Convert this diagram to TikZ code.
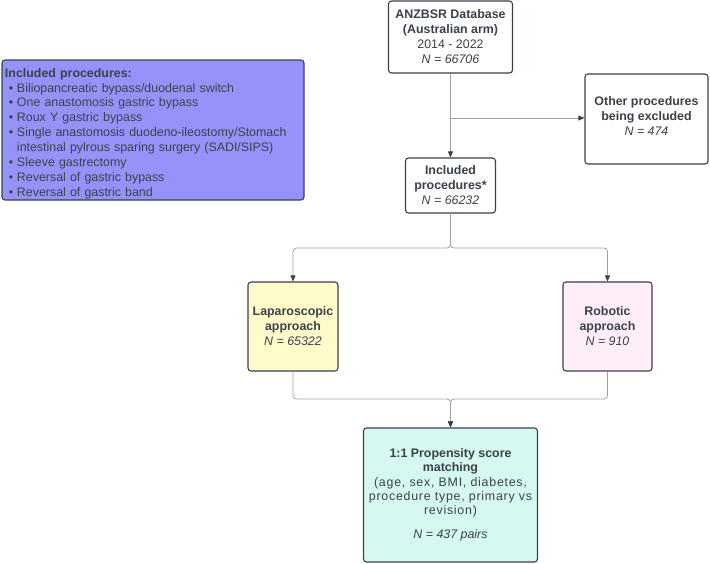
\documentclass[tikz,border=0pt]{standalone}
\usepackage{fontspec}
\setmainfont{Liberation Sans}
\usetikzlibrary{arrows.meta}
\definecolor{txt}{HTML}{3A414A}
\definecolor{bord}{HTML}{3A414A}
\definecolor{lineg}{HTML}{9EA1A6}
\definecolor{purp}{HTML}{9593F9}
\definecolor{yell}{HTML}{FFFBCA}
\definecolor{pink}{HTML}{FFEEFA}
\definecolor{mint}{HTML}{D5F8F1}
\newcommand{\bul}{\makebox[12pt][c]{\textbullet}}
\begin{document}
\begin{tikzpicture}[x=1pt,y=-1pt,
  box/.style={draw=bord, line width=1.1pt, rounded corners=3pt, text=txt, align=center,
    inner sep=0pt, font=\fontsize{12.4}{15}\selectfont},
  conn/.style={draw=lineg, line width=0.8pt, rounded corners=3.5pt},
  arr/.style={conn, -{Triangle[length=6pt,width=5pt,color=txt]}}]
\useasboundingbox (0,0) rectangle (710,563);

\node[box, fill=white, minimum width=124pt, minimum height=72pt] (anz) at (450.5,37)
  {\textbf{ANZBSR Database}\\\textbf{(Australian arm)}\\2014 - 2022\\\textit{N = 66706}};
\node[box, fill=white, minimum width=123pt, minimum height=90pt] (oth) at (646.5,119)
  {\textbf{Other procedures}\\\textbf{being excluded}\\\textit{N = 474}\rule[-5pt]{0pt}{1pt}};
\node[box, fill=white, minimum width=90pt, minimum height=55pt] (inc) at (450.5,185.5)
  {\textbf{Included}\\\textbf{procedures*}\\\textit{N = 66232}};
\node[box, fill=yell, minimum width=90pt, minimum height=89pt] (lap) at (293,326.5)
  {\textbf{Laparoscopic}\\\textbf{approach}\\\textit{N = 65322}};
\node[box, fill=pink, minimum width=89pt, minimum height=89pt] (rob) at (607.5,326.5)
  {\textbf{Robotic}\\\textbf{approach}\\\textit{N = 910}};
\node[box, fill=mint, minimum width=174pt, minimum height=134pt,
  font=\fontsize{12.4}{14.2}\selectfont] (prop) at (450.5,495)
  {\textbf{1:1 Propensity score}\\\textbf{matching}\\
   {\addfontfeature{LetterSpace=6}(age, sex, BMI, diabetes,}\\
   {\addfontfeature{LetterSpace=6}procedure type, primary vs}\\
   {\addfontfeature{LetterSpace=6}revision)}\\[10pt]\textit{N = 437 pairs}};
\node[box, fill=purp, align=left, text width=296pt, inner xsep=3pt, minimum height=140pt,
  font=\fontsize{12.4}{14.9}\selectfont] (list) at (153,130)
  {\rule{0pt}{16pt}\textbf{Included procedures:}\\
   \bul Biliopancreatic bypass/duodenal switch\\
   \bul One anastomosis gastric bypass\\
   \bul Roux Y gastric bypass\\
   \bul Single anastomosis duodeno-ileostomy/Stomach\\
   \hspace*{12pt}intestinal pylrous sparing surgery (SADI/SIPS)\\
   \bul Sleeve gastrectomy\\
   \bul Reversal of gastric bypass\\
   \bul Reversal of gastric band};

\coordinate (br) at (450.5,118);
\coordinate (s1) at (450.5,248);
\coordinate (s2) at (450.5,399);
\draw[arr] (anz.south) -- (inc.north);
\draw[arr] (br) -- (oth.west |- br);
\draw[arr] (inc.south) -- (s1) -| (lap.north);
\draw[arr] (inc.south) -- (s1) -| (rob.north);
\draw[arr] (lap.south) |- (s2) -- (prop.north);
\draw[arr] (rob.south) |- (s2) -- (prop.north);
\end{tikzpicture}
\end{document}
